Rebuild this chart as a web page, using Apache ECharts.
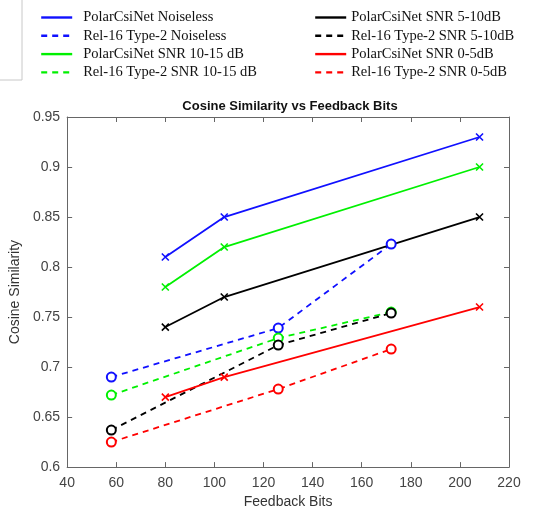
<!DOCTYPE html>
<html>
<head>
<meta charset="utf-8">
<script src="https://cdn.jsdelivr.net/npm/echarts@6/dist/echarts.min.js"></script>
<style>
  html, body { margin: 0; padding: 0; background: #fff; }
  #chart { width: 544px; height: 514px; }
</style>
</head>
<body>
<div id="chart"></div>
<script>
// feedback bits (x values)
var polarBits = [80, 104, 208];
var relBits = [58, 126, 172];

// cosine similarity per scheme
var polarNoiseless = [0.81, 0.85, 0.93];
var relNoiseless = [0.69, 0.739, 0.823];
var polar1015 = [0.78, 0.82, 0.90];
var rel1015 = [0.672, 0.729, 0.755];
var polar510 = [0.74, 0.77, 0.85];
var rel510 = [0.637, 0.722, 0.754];
var polar05 = [0.67, 0.69, 0.76];
var rel05 = [0.625, 0.678, 0.718];

var names = [
  'PolarCsiNet Noiseless', 'Rel-16 Type-2 Noiseless',
  'PolarCsiNet SNR 10-15 dB', 'Rel-16 Type-2 SNR 10-15 dB',
  'PolarCsiNet SNR 5-10dB', 'Rel-16 Type-2 SNR 5-10dB',
  'PolarCsiNet SNR 0-5dB', 'Rel-16 Type-2 SNR 0-5dB'
];

var crossPath = 'path://M0,0 L10,10 M10,0 L0,10';

function pairs(xs, ys) {
  var out = [];
  for (var i = 0; i < xs.length; i++) out.push([xs[i], ys[i]]);
  return out;
}

function polarSeries(name, ys, color) {
  return {
    name: name, type: 'line', data: pairs(polarBits, ys),
    symbol: crossPath, symbolSize: 7,
    itemStyle: { color: color, borderColor: color, borderWidth: 1.6 },
    lineStyle: { color: color, width: 1.8, type: 'solid' },
    emphasis: { disabled: true }
  };
}

function relSeries(name, ys, color) {
  return {
    name: name, type: 'line', data: pairs(relBits, ys),
    symbol: 'emptyCircle', symbolSize: 9,
    itemStyle: { color: color, borderColor: color, borderWidth: 1.6 },
    lineStyle: { color: color, width: 1.8, type: [6, 5] },
    emphasis: { disabled: true }
  };
}

var blue = '#1010ff', green = '#00f000', black = '#000000', red = '#ff0000';

function legendCol(left, pad, data) {
  return {
    orient: 'vertical', left: left, top: 5, data: data,
    itemWidth: 31, itemHeight: 12, itemGap: 3.3,
    textStyle: {
      fontFamily: 'Liberation Serif', fontSize: 14.5, color: '#111',
      lineHeight: 14, padding: [0, 0, 0, pad]
    },
    itemStyle: { opacity: 0 },
    lineStyle: { width: 2.4 }
  };
}

var chart = echarts.init(document.getElementById('chart'));
chart.setOption({
  animation: false,
  backgroundColor: '#fff',
  title: {
    text: 'Cosine Similarity vs Feedback Bits',
    left: 285, top: 95, textAlign: 'center',
    textStyle: { fontFamily: 'Liberation Sans', fontSize: 13, fontWeight: 'bold', color: '#111' }
  },
  legend: [
    legendCol(35, 6, names.slice(0, 4)),
    legendCol(309, 0, names.slice(4, 8))
  ],
  graphic: [{
    type: 'rect', shape: { x: -2, y: -2, width: 24, height: 82 },
    style: { fill: 'none', stroke: '#c8c8c8', lineWidth: 1 }
  }],
  grid: { left: 62, right: 35, top: 117, bottom: 46 },
  xAxis: [{
    type: 'value', min: 40, max: 220, interval: 20,
    name: 'Feedback Bits', nameLocation: 'middle', nameGap: 27,
    nameTextStyle: { fontFamily: 'Liberation Sans', fontSize: 14, color: '#333' },
    axisLine: { lineStyle: { color: '#666' } },
    axisTick: { inside: true, length: 5, lineStyle: { color: '#666' } },
    axisLabel: { fontFamily: 'Liberation Sans', fontSize: 14, color: '#444', margin: 9 },
    splitLine: { show: false }
  }, {
    type: 'value', position: 'top', min: 40, max: 220, interval: 20,
    axisLine: { lineStyle: { color: '#666' } },
    axisTick: { inside: true, length: 5, lineStyle: { color: '#666' } },
    axisLabel: { show: false }, splitLine: { show: false }
  }],
  yAxis: [{
    type: 'value', min: 0.6, max: 0.95, interval: 0.05,
    name: 'Cosine Similarity', nameLocation: 'middle', nameGap: 38,
    nameTextStyle: { fontFamily: 'Liberation Sans', fontSize: 14, color: '#333' },
    axisLine: { show: true, lineStyle: { color: '#666' } },
    axisTick: { show: true, inside: true, length: 5, lineStyle: { color: '#666' } },
    axisLabel: {
      fontFamily: 'Liberation Sans', fontSize: 14, color: '#444', margin: 7,
      formatter: function (v) { return String(+v.toFixed(2)); }
    },
    splitLine: { show: false }
  }, {
    type: 'value', position: 'right', min: 0.6, max: 0.95, interval: 0.05,
    axisLine: { show: true, lineStyle: { color: '#666' } },
    axisTick: { show: true, inside: true, length: 5, lineStyle: { color: '#666' } },
    axisLabel: { show: false }, splitLine: { show: false }
  }],
  series: [
    polarSeries(names[0], polarNoiseless, blue),
    relSeries(names[1], relNoiseless, blue),
    polarSeries(names[2], polar1015, green),
    relSeries(names[3], rel1015, green),
    polarSeries(names[4], polar510, black),
    relSeries(names[5], rel510, black),
    polarSeries(names[6], polar05, red),
    relSeries(names[7], rel05, red)
  ]
});
</script>
</body>
</html>
